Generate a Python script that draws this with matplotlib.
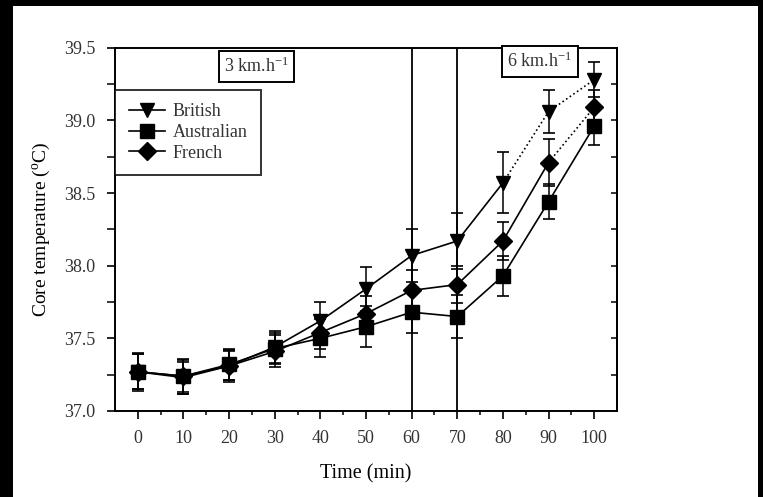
import matplotlib
matplotlib.use("Agg")
import matplotlib.pyplot as plt
from matplotlib.patches import Rectangle
import numpy as np

plt.rcParams['font.family'] = ['Liberation Serif', 'DejaVu Serif']
plt.rcParams['mathtext.fontset'] = 'custom'
plt.rcParams['mathtext.rm'] = 'Liberation Serif'
plt.rcParams['mathtext.it'] = 'Liberation Serif:italic'

time_min = [0, 10, 20, 30, 40, 50, 60, 70, 80, 90, 100]
british = [37.27, 37.23, 37.31, 37.44, 37.62, 37.84, 38.07, 38.17, 38.57, 39.06, 39.28]
british_err = [0.12, 0.11, 0.10, 0.11, 0.13, 0.15, 0.18, 0.19, 0.21, 0.15, 0.12]
australian = [37.27, 37.24, 37.32, 37.43, 37.50, 37.58, 37.68, 37.65, 37.93, 38.44, 38.96]
australian_err = [0.12, 0.12, 0.11, 0.11, 0.13, 0.14, 0.14, 0.15, 0.14, 0.12, 0.13]
french = [37.27, 37.24, 37.31, 37.41, 37.54, 37.67, 37.83, 37.87, 38.17, 38.71, 39.09]
french_err = [0.13, 0.11, 0.11, 0.11, 0.11, 0.12, 0.14, 0.13, 0.13, 0.16, 0.12]
# index of the last point joined by a solid line (rest dotted)
solid_end = {'British': 8, 'Australian': 10, 'French': 9}
markers = {'British': 'v', 'Australian': 's', 'French': 'D'}
phase_lines = [60, 70]
speed_labels = ['3 km.h$^{-1}$', '6 km.h$^{-1}$']
speed_pos = [(26, 39.37), (88.1, 39.405)]

fig = plt.figure(figsize=(7.63, 4.97), dpi=100, facecolor='black')
bg = Rectangle((13/763, 0), (758-13)/763, (497-6)/497,
               transform=fig.transFigure, facecolor='white',
               edgecolor='none', zorder=-10)
fig.patches.append(bg)
ax = fig.add_axes([115/763, 1-411/497, (617-115)/763, (411-47.7)/497])
ax.set_zorder(5)
ax.set_facecolor('white')

series = [('British', british, british_err),
          ('Australian', australian, australian_err),
          ('French', french, french_err)]
x = np.array(time_min)
handles = []
for name, vals, err in series:
    vals = np.array(vals)
    k = solid_end[name]
    ms = 10.5 if name == 'British' else (9.5 if name == 'Australian' else 9)
    ax.errorbar(x, vals, yerr=err, fmt='none', ecolor='black', elinewidth=1.1,
                capsize=4.5, capthick=1.2, zorder=3)
    ax.plot(x[:k+1], vals[:k+1], '-', color='black', lw=1.2, zorder=3)
    if k < len(x) - 1:
        ax.plot(x[k:], vals[k:], ':', color='black', lw=1.2, zorder=3)
    ax.plot(x, vals, linestyle='none', marker=markers[name], color='black',
            markersize=ms, zorder=4)
    h, = ax.plot([], [], '-', marker=markers[name], color='black', lw=1.2,
                 markersize=ms, label=name)
    handles.append(h)

for xv in phase_lines:
    ax.axvline(xv, color='black', lw=1.3, zorder=2)

for lbl, (tx, ty) in zip(speed_labels, speed_pos):
    ax.text(tx, ty, lbl, ha='center', va='center', fontsize=13, color='#333333',
            bbox=dict(boxstyle='square,pad=0.3', facecolor='white', edgecolor='black', lw=1.4),
            zorder=5)

ax.set_xlim(-5, 105)
ax.set_ylim(37.0, 39.5)
ax.set_xticks(time_min)
ax.set_xticks(np.arange(5, 105, 10), minor=True)
ax.set_yticks([37.0, 37.5, 38.0, 38.5, 39.0, 39.5])
ax.set_yticklabels(['37.0', '37.5', '38.0', '38.5', '39.0', '39.5'])
ax.set_yticks([37.25, 37.75, 38.25, 38.75, 39.25], minor=True)
ax.tick_params(which='major', direction='out', length=6, width=1.2, labelsize=13,
               labelcolor='#333333', pad=8)
ax.tick_params(which='minor', direction='out', length=3, width=1.1)
ax.tick_params(axis='y', which='minor', length=6)
for s in ax.spines.values():
    s.set_linewidth(1.4)

sec = ax.secondary_yaxis('right')
sec.set_yticks(np.arange(37.25, 39.5, 0.25))
sec.tick_params(direction='in', length=4, width=1.1, labelright=False)
sec.spines['right'].set_linewidth(1.4)

ax.set_xlabel('Time (min)', fontsize=14.5, labelpad=12)
ax.set_ylabel('Core temperature ($^{\\rm o}$C)', fontsize=14, labelpad=9)

leg = ax.legend(handles=handles, loc='upper left', bbox_to_anchor=(0.0, 0.884),
                frameon=True, fancybox=False, fontsize=13, handlelength=2.0,
                borderaxespad=0, handletextpad=0.45, labelspacing=0.2,
                borderpad=0.75)
leg.get_frame().set_edgecolor('black')
leg.get_frame().set_linewidth(1.4)
for t in leg.get_texts():
    t.set_color('#333333')

fig.savefig('out.png', dpi=100, facecolor='black')
